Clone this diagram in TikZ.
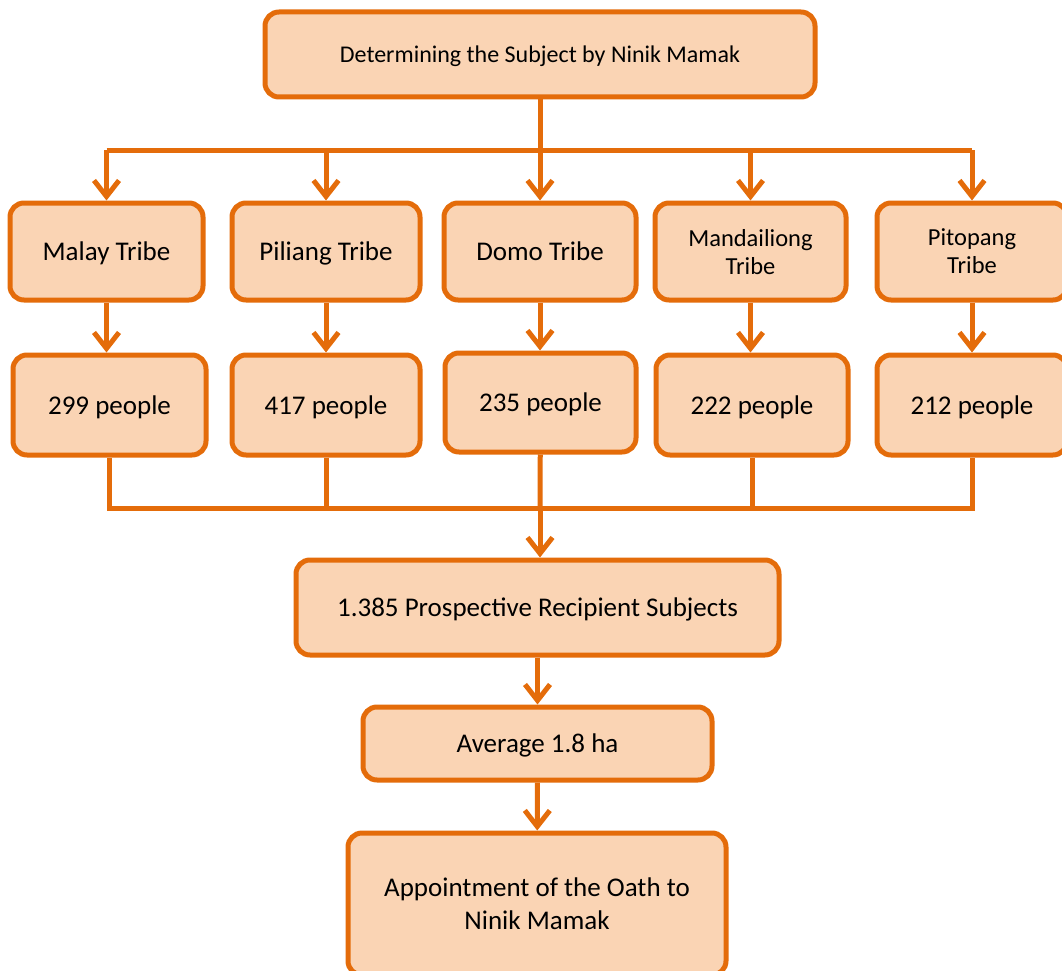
\documentclass[tikz,border=0pt]{standalone}
\usepackage{fontspec}
\setmainfont{Carlito}
\usepackage{tikz}
\usetikzlibrary{arrows.meta}
\definecolor{boxline}{HTML}{E46C0A}
\definecolor{boxfill}{HTML}{FAD4B4}

\tikzset{
  box/.style={draw=boxline, fill=boxfill, line width=5pt, rounded corners=14pt,
    align=center, inner sep=0pt, text depth=0pt, font=\fontsize{27}{33}\selectfont},
  smallbox/.style={box, font=\fontsize{24.5}{28}\selectfont},
  topbox/.style={box, font=\fontsize{24}{29}\selectfont},
  link/.style={draw=boxline, line width=5pt},
  arr/.style={link, line join=round, -{Straight Barb[length=16pt,width=25pt]}}
}

\begin{document}
\begin{tikzpicture}[x=1pt, y=-1pt]
  \useasboundingbox (0,0) rectangle (1062,971);
  % boxes
  \node[topbox, minimum width=550pt, minimum height=85pt] (subject) at (540,54.5) {Determining the Subject by Ninik Mamak};

  \node[box, minimum width=193pt, minimum height=97pt] (malay) at (106.5,251.5) {Malay Tribe};
  \node[box, minimum width=188pt, minimum height=97pt] (piliang) at (326,251.5) {Piliang Tribe};
  \node[box, minimum width=192pt, minimum height=97pt] (domo) at (540,251.5) {Domo Tribe};
  \node[smallbox, minimum width=191pt, minimum height=97pt] (mandailiong) at (750.5,251.5) {Mandailiong\\Tribe};
  \node[smallbox, minimum width=190pt, minimum height=97pt] (pitopang) at (972,251.5) {Pitopang\\Tribe};

  \node[box, minimum width=193pt, minimum height=100pt] (malaynum) at (109.5,405) {299 people};
  \node[box, minimum width=188pt, minimum height=100pt] (piliangnum) at (326,405) {417 people};
  \node[box, minimum width=191pt, minimum height=99pt] (domonum) at (540.5,402.5) {235 people};
  \node[box, minimum width=192pt, minimum height=100pt] (mandailiongnum) at (752,405) {222 people};
  \node[box, minimum width=190pt, minimum height=100pt] (pitopangnum) at (972,405) {212 people};

  \node[box, minimum width=483pt, minimum height=95pt] (recipients) at (537.5,607.5) {1.385 Prospective Recipient Subjects};
  \node[box, minimum width=349pt, minimum height=73pt] (average) at (537.5,743.5) {Average 1.8 ha};
  \node[box, minimum width=378pt, minimum height=142pt] (oath) at (537,904) {Appointment of the Oath to\\Ninik Mamak};

  % connectors
  \coordinate (fork) at (540,150);
  \coordinate (bus) at (540,508);
  \draw[link] (subject) -- (fork);
  \draw[link] (fork -| malay) -- (fork -| pitopang);
  \draw[arr] (fork -| malay) -- (malay);
  \draw[arr] (fork -| piliang) -- (piliang);
  \draw[arr] (fork) -- (domo);
  \draw[arr] (fork -| mandailiong) -- (mandailiong);
  \draw[arr] (fork -| pitopang) -- (pitopang);

  \draw[arr] (malay) -- (malay |- malaynum.north);
  \draw[arr] (piliang) -- (piliangnum);
  \draw[arr] (domo) -- (domo |- domonum.north);
  \draw[arr] (mandailiong) -- (mandailiong |- mandailiongnum.north);
  \draw[arr] (pitopang) -- (pitopangnum);

  \draw[link] (malaynum.south) -- (bus -| malaynum) -- (bus -| pitopangnum) -- (pitopangnum.south);
  \draw[link] (piliangnum) -- (bus -| piliangnum);
  \draw[link] (domonum) -- (bus);
  \draw[link] (mandailiongnum) -- (bus -| mandailiongnum);
  \draw[arr] (bus) -- (bus |- recipients.north);
  \draw[arr] (recipients) -- (average);
  \draw[arr] (average) -- (oath);
\end{tikzpicture}
\end{document}
